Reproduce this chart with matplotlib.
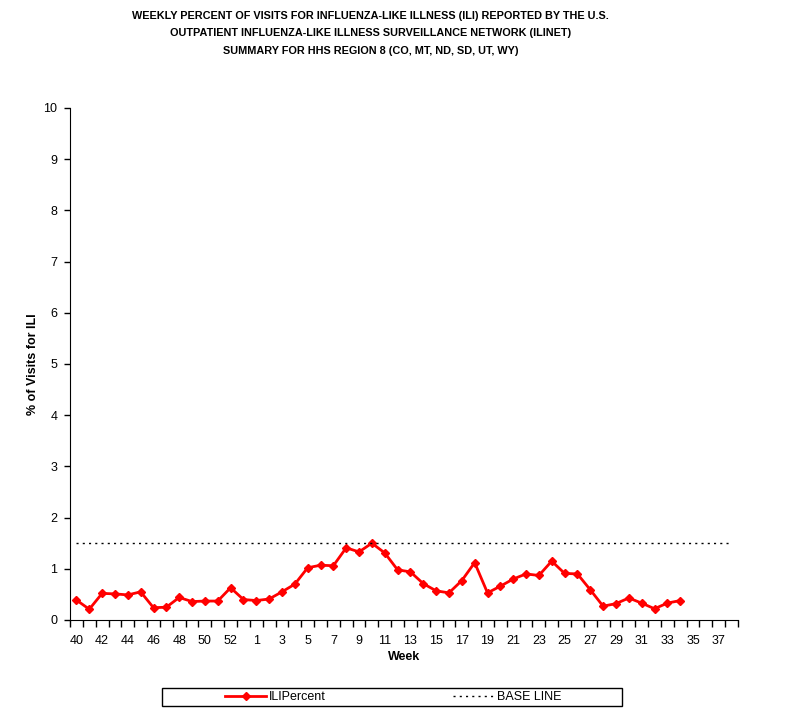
import matplotlib
matplotlib.use("Agg")
import matplotlib.pyplot as plt
from matplotlib.patches import Rectangle
import numpy as np

plt.rcParams['font.family'] = ['Liberation Sans', 'DejaVu Sans']

# semanas de la temporada (40-53, 1-38)
weeks = list(range(40, 54)) + list(range(1, 39))

# porcentaje ILI semanal (hasta la semana 34)
ili_percent = [0.39, 0.21, 0.52, 0.51, 0.49, 0.55, 0.24, 0.25, 0.44, 0.36,
               0.37, 0.37, 0.63, 0.40, 0.38, 0.41, 0.55, 0.70, 1.02, 1.07,
               1.06, 1.41, 1.33, 1.50, 1.31, 0.98, 0.94, 0.71, 0.57, 0.53,
               0.77, 1.12, 0.53, 0.66, 0.80, 0.90, 0.87, 1.15, 0.91, 0.90,
               0.59, 0.27, 0.32, 0.43, 0.33, 0.22, 0.33, 0.38]

baseline = 1.5

x = np.arange(len(weeks))

fig = plt.figure(figsize=(8.01, 7.15), dpi=100)
ax = fig.add_axes([70/801, 1-620/715, 668/801, 512/715])

ax.plot(x[:len(ili_percent)], ili_percent, color='red', linewidth=2,
        marker='D', markersize=4.5, label='ILIPercent')
ax.plot(x, [baseline]*len(x), color='black', linestyle=(0, (1.5, 3)),
        linewidth=1, label='BASE LINE')

ax.set_xlim(-0.5, len(weeks) - 0.5)
ax.set_ylim(0, 10)
ax.set_yticks(range(0, 11))
ax.tick_params(axis='y', labelsize=9, length=4, width=1, pad=5)

# ticks en los limites de categoria, etiquetas cada dos semanas
ax.set_xticks(np.arange(len(weeks) + 1) - 0.5)
ax.set_xticklabels([])
ax.set_xticks(x[::2], minor=True)
ax.set_xticklabels([str(w) for w in weeks[::2]], minor=True)
ax.tick_params(axis='x', which='major', length=5, width=1)
ax.tick_params(axis='x', which='minor', length=0, labelsize=9, pad=11)

ax.spines['top'].set_visible(False)
ax.spines['right'].set_visible(False)

ax.set_xlabel('Week', fontsize=9, fontweight='bold', labelpad=3)
ax.set_ylabel('% of Visits for ILI', fontsize=9, fontweight='bold', labelpad=3)

fig.text(0.463, 1-11/715,
         'WEEKLY PERCENT OF VISITS FOR INFLUENZA-LIKE ILLNESS (ILI) REPORTED BY THE U.S.\n'
         'OUTPATIENT INFLUENZA-LIKE ILLNESS SURVEILLANCE NETWORK (ILINET)\n'
         'SUMMARY FOR HHS REGION 8 (CO, MT, ND, SD, UT, WY)',
         ha='center', va='top', fontsize=7.8, fontweight='bold', linespacing=1.92)

# caja de la leyenda dibujada aparte
fig.patches.append(Rectangle((162/801, 1-706/715), 460/801, 18/715,
                             transform=fig.transFigure, fill=False,
                             edgecolor='black', linewidth=1))
fig.legend(loc='center', bbox_to_anchor=(393/801, 1-697/715), ncol=2,
           frameon=False, fontsize=9, columnspacing=10.2, handlelength=3.3,
           borderpad=0.1, handletextpad=0.2, markerscale=0.8)

fig.savefig('out.png', dpi=100)
